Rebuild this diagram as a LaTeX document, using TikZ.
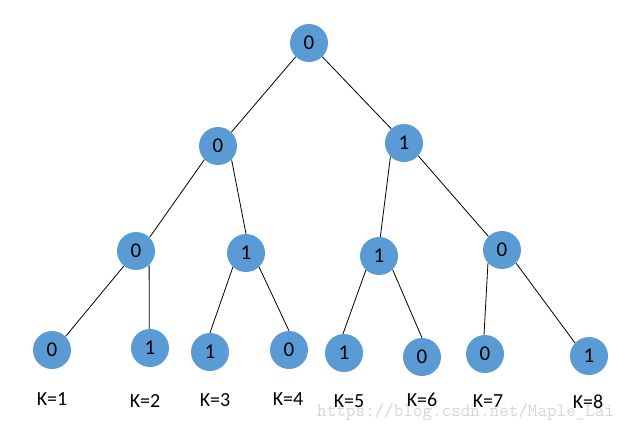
\documentclass[tikz,border=0pt]{standalone}
\usepackage{fontspec}
\setmainfont{Carlito}
\definecolor{nodeblue}{HTML}{5B9BD5}
\definecolor{wmgrey}{HTML}{D6D6D6}
\begin{document}
\begin{tikzpicture}[x=1pt,y=-1pt,
  tnode/.style={circle,fill=nodeblue,draw=none,minimum size=38pt,inner sep=0pt,font=\fontsize{21}{23}\selectfont},
  klabel/.style={font=\fontsize{20}{22}\selectfont,inner sep=0pt},
  edge/.style={draw=black,line width=0.8pt}]
\useasboundingbox (0,0) rectangle (637,432);
\node[font=\ttfamily\fontsize{18.6}{20}\selectfont,text=wmgrey,inner sep=0pt,anchor=west] (wm) at (317,412) {https://blog.csdn.net/Maple\_Lai};
\node[tnode] (r) at (309,43) {0};
\node[tnode] (a) at (218,146) {0};
\node[tnode] (b) at (404,143) {1};
\node[tnode] (aa) at (136,251) {0};
\node[tnode] (ab) at (246,253) {1};
\node[tnode] (ba) at (379,256) {1};
\node[tnode] (bb) at (502,250) {0};
\node[tnode] (l1) at (52,350) {0};
\node[tnode] (l2) at (150,348) {1};
\node[tnode] (l3) at (210,352) {1};
\node[tnode] (l4) at (289,350) {0};
\node[tnode] (l5) at (344,353) {1};
\node[tnode] (l6) at (422,357) {0};
\node[tnode] (l7) at (485,354) {0};
\node[tnode] (l8) at (589,356) {1};
\path[edge]
  (r.226) -- (a.46) (r.314) -- (b.132)
  (a.225) -- (aa.45) (a.315) -- (ab.90)
  (b.225) -- (ba.86) (b.318) -- (bb.135)
  (aa.231) -- (l1.45) (aa.-47) -- (l2.92)
  (ab.227) -- (l3.90) (ab.-47) -- (l4.90)
  (ba.227) -- (l5.93) (ba.-45) -- (l6.90)
  (bb.223) -- (l7.93) (bb.-43) -- (l8.137);
\node[klabel] (k1) at (52,399) {K=1};
\node[klabel] (k2) at (145,401) {K=2};
\node[klabel] (k3) at (215,400) {K=3};
\node[klabel] (k4) at (288,399) {K=4};
\node[klabel] (k5) at (349,401) {K=5};
\node[klabel] (k6) at (422,400) {K=6};
\node[klabel] (k7) at (488,401) {K=7};
\node[klabel] (k8) at (588,402) {K=8};
\end{tikzpicture}
\end{document}
